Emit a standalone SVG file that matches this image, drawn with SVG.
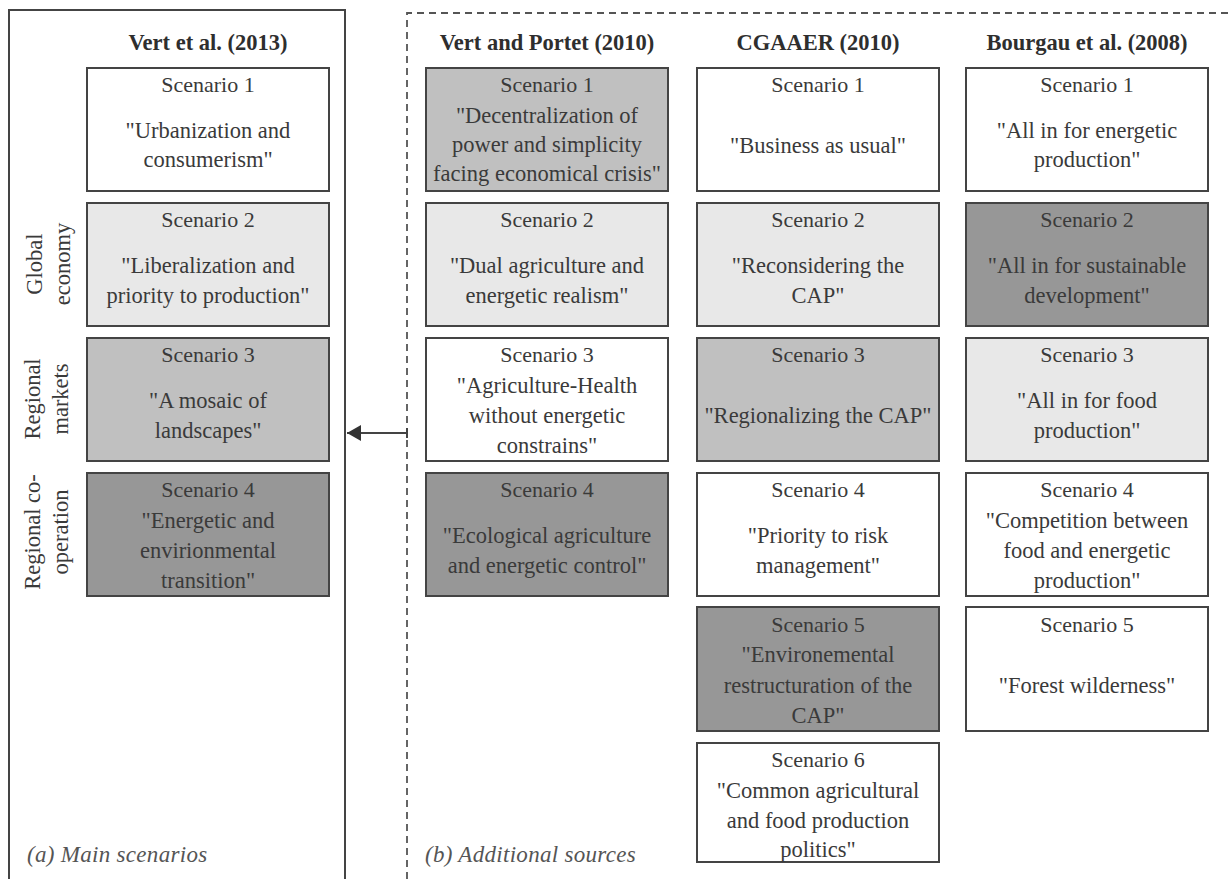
<svg xmlns="http://www.w3.org/2000/svg" width="1229" height="879" viewBox="0 0 1229 879">
<style>
  text { font-family: "Liberation Serif", "Times New Roman", serif; fill: #3a3a3a; text-anchor: middle; }
  .hd { font-size: 22.5px; font-weight: bold; fill: #2e2e2e; }
  .sc { font-size: 22px; }
  .q { font-size: 22.5px; }
  .rot { font-size: 22.5px; }
  .foot { font-size: 23px; font-style: italic; fill: #555; text-anchor: start; letter-spacing: 0.3px; }
  .box { stroke: #444; stroke-width: 2; }
  .w { fill: #ffffff; }
  .l { fill: #e8e8e8; }
  .m { fill: #c0c0c0; }
  .d { fill: #979797; }
  .frame { fill: none; stroke: #444; stroke-width: 2; }
  .dash { fill: none; stroke: #555; stroke-width: 1.8; stroke-dasharray: 7 5; }
  .conn { stroke: #444; stroke-width: 2; fill: none; }
</style>
<defs>
  <marker id="ah" markerWidth="14" markerHeight="16" refX="14" refY="8" orient="auto" markerUnits="userSpaceOnUse">
    <path d="M0,0 L14,8 L0,16 Z" fill="#333"/>
  </marker>
</defs>
<rect width="1229" height="879" fill="#ffffff"/>

<g id="frames">
  <path class="frame" d="M9,879 V10 H345 V879"/>
  <path class="dash" d="M407,879 V13 H1229"/>
</g>

<g id="headers">
  <text class="hd" x="208" y="50">Vert et al. (2013)</text>
  <text class="hd" x="547" y="50">Vert and Portet (2010)</text>
  <text class="hd" x="818" y="50">CGAAER (2010)</text>
  <text class="hd" x="1087" y="50">Bourgau et al. (2008)</text>
</g>

<g id="row-labels">
  <text class="rot" transform="translate(42,264) rotate(-90)">Global</text>
  <text class="rot" transform="translate(70,264) rotate(-90)">economy</text>
  <text class="rot" transform="translate(40,399) rotate(-90)">Regional</text>
  <text class="rot" transform="translate(68,399) rotate(-90)">markets</text>
  <text class="rot" transform="translate(40,532) rotate(-90)">Regional co-</text>
  <text class="rot" transform="translate(68,532) rotate(-90)">operation</text>
</g>

<g id="connectors">
  <line class="conn" x1="407" y1="433" x2="347" y2="433" marker-end="url(#ah)"/>
  <line class="conn" x1="407" y1="428" x2="407" y2="438"/>
</g>

<!-- Vert et al. (2013) -->
<g id="L1" transform="translate(87,68)">
  <rect class="box w" width="242" height="123"/>
  <text class="sc" x="121" y="24">Scenario 1</text>
  <text class="q" x="121" y="70">"Urbanization and</text>
  <text class="q" x="121" y="99">consumerism"</text>
</g>
<g id="L2" transform="translate(87,203)">
  <rect class="box l" width="242" height="123"/>
  <text class="sc" x="121" y="24">Scenario 2</text>
  <text class="q" x="121" y="70">"Liberalization and</text>
  <text class="q" x="121" y="100">priority to production"</text>
</g>
<g id="L3" transform="translate(87,338)">
  <rect class="box m" width="242" height="123"/>
  <text class="sc" x="121" y="24">Scenario 3</text>
  <text class="q" x="121" y="70">"A mosaic of</text>
  <text class="q" x="121" y="100">landscapes"</text>
</g>
<g id="L4" transform="translate(87,473)">
  <rect class="box d" width="242" height="123"/>
  <text class="sc" x="121" y="24">Scenario 4</text>
  <text class="q" x="121" y="55">"Energetic and</text>
  <text class="q" x="121" y="85">envirionmental</text>
  <text class="q" x="121" y="115">transition"</text>
</g>

<!-- Vert and Portet (2010) -->
<g id="VP1" transform="translate(426,68)">
  <rect class="box m" width="242" height="123"/>
  <text class="sc" x="121" y="24">Scenario 1</text>
  <text class="q" x="121" y="55">"Decentralization of</text>
  <text class="q" x="121" y="84">power and simplicity</text>
  <text class="q" x="121" y="113">facing economical crisis"</text>
</g>
<g id="VP2" transform="translate(426,203)">
  <rect class="box l" width="242" height="123"/>
  <text class="sc" x="121" y="24">Scenario 2</text>
  <text class="q" x="121" y="70">"Dual agriculture and</text>
  <text class="q" x="121" y="100">energetic realism"</text>
</g>
<g id="VP3" transform="translate(426,338)">
  <rect class="box w" width="242" height="123"/>
  <text class="sc" x="121" y="24">Scenario 3</text>
  <text class="q" x="121" y="55">"Agriculture-Health</text>
  <text class="q" x="121" y="85">without energetic</text>
  <text class="q" x="121" y="115">constrains"</text>
</g>
<g id="VP4" transform="translate(426,473)">
  <rect class="box d" width="242" height="123"/>
  <text class="sc" x="121" y="24">Scenario 4</text>
  <text class="q" x="121" y="70">"Ecological agriculture</text>
  <text class="q" x="121" y="100">and energetic control"</text>
</g>

<!-- CGAAER (2010) -->
<g id="CG1" transform="translate(697,68)">
  <rect class="box w" width="242" height="123"/>
  <text class="sc" x="121" y="24">Scenario 1</text>
  <text class="q" x="121" y="85">"Business as usual"</text>
</g>
<g id="CG2" transform="translate(697,203)">
  <rect class="box l" width="242" height="123"/>
  <text class="sc" x="121" y="24">Scenario 2</text>
  <text class="q" x="121" y="70">"Reconsidering the</text>
  <text class="q" x="121" y="100">CAP"</text>
</g>
<g id="CG3" transform="translate(697,338)">
  <rect class="box m" width="242" height="123"/>
  <text class="sc" x="121" y="24">Scenario 3</text>
  <text class="q" x="121" y="85">"Regionalizing the CAP"</text>
</g>
<g id="CG4" transform="translate(697,473)">
  <rect class="box w" width="242" height="123"/>
  <text class="sc" x="121" y="24">Scenario 4</text>
  <text class="q" x="121" y="70">"Priority to risk</text>
  <text class="q" x="121" y="100">management"</text>
</g>
<g id="CG5" transform="translate(697,607)">
  <rect class="box d" width="242" height="124"/>
  <text class="sc" x="121" y="25">Scenario 5</text>
  <text class="q" x="121" y="55">"Environemental</text>
  <text class="q" x="121" y="86">restructuration of the</text>
  <text class="q" x="121" y="116">CAP"</text>
</g>
<g id="CG6" transform="translate(697,743)">
  <rect class="box w" width="242" height="119"/>
  <text class="sc" x="121" y="24">Scenario 6</text>
  <text class="q" x="121" y="55">"Common agricultural</text>
  <text class="q" x="121" y="85">and food production</text>
  <text class="q" x="121" y="114">politics"</text>
</g>

<!-- Bourgau et al. (2008) -->
<g id="BG1" transform="translate(966,68)">
  <rect class="box w" width="242" height="123"/>
  <text class="sc" x="121" y="24">Scenario 1</text>
  <text class="q" x="121" y="70">"All in for energetic</text>
  <text class="q" x="121" y="99">production"</text>
</g>
<g id="BG2" transform="translate(966,203)">
  <rect class="box d" width="242" height="123"/>
  <text class="sc" x="121" y="24">Scenario 2</text>
  <text class="q" x="121" y="70">"All in for sustainable</text>
  <text class="q" x="121" y="100">development"</text>
</g>
<g id="BG3" transform="translate(966,338)">
  <rect class="box l" width="242" height="123"/>
  <text class="sc" x="121" y="24">Scenario 3</text>
  <text class="q" x="121" y="70">"All in for food</text>
  <text class="q" x="121" y="100">production"</text>
</g>
<g id="BG4" transform="translate(966,473)">
  <rect class="box w" width="242" height="123"/>
  <text class="sc" x="121" y="24">Scenario 4</text>
  <text class="q" x="121" y="55">"Competition between</text>
  <text class="q" x="121" y="85">food and energetic</text>
  <text class="q" x="121" y="115">production"</text>
</g>
<g id="BG5" transform="translate(966,607)">
  <rect class="box w" width="242" height="124"/>
  <text class="sc" x="121" y="25">Scenario 5</text>
  <text class="q" x="121" y="86">"Forest wilderness"</text>
</g>

<g id="footers">
  <text class="foot" x="27" y="862">(a) Main scenarios</text>
  <text class="foot" x="425" y="862">(b) Additional sources</text>
</g>
</svg>
